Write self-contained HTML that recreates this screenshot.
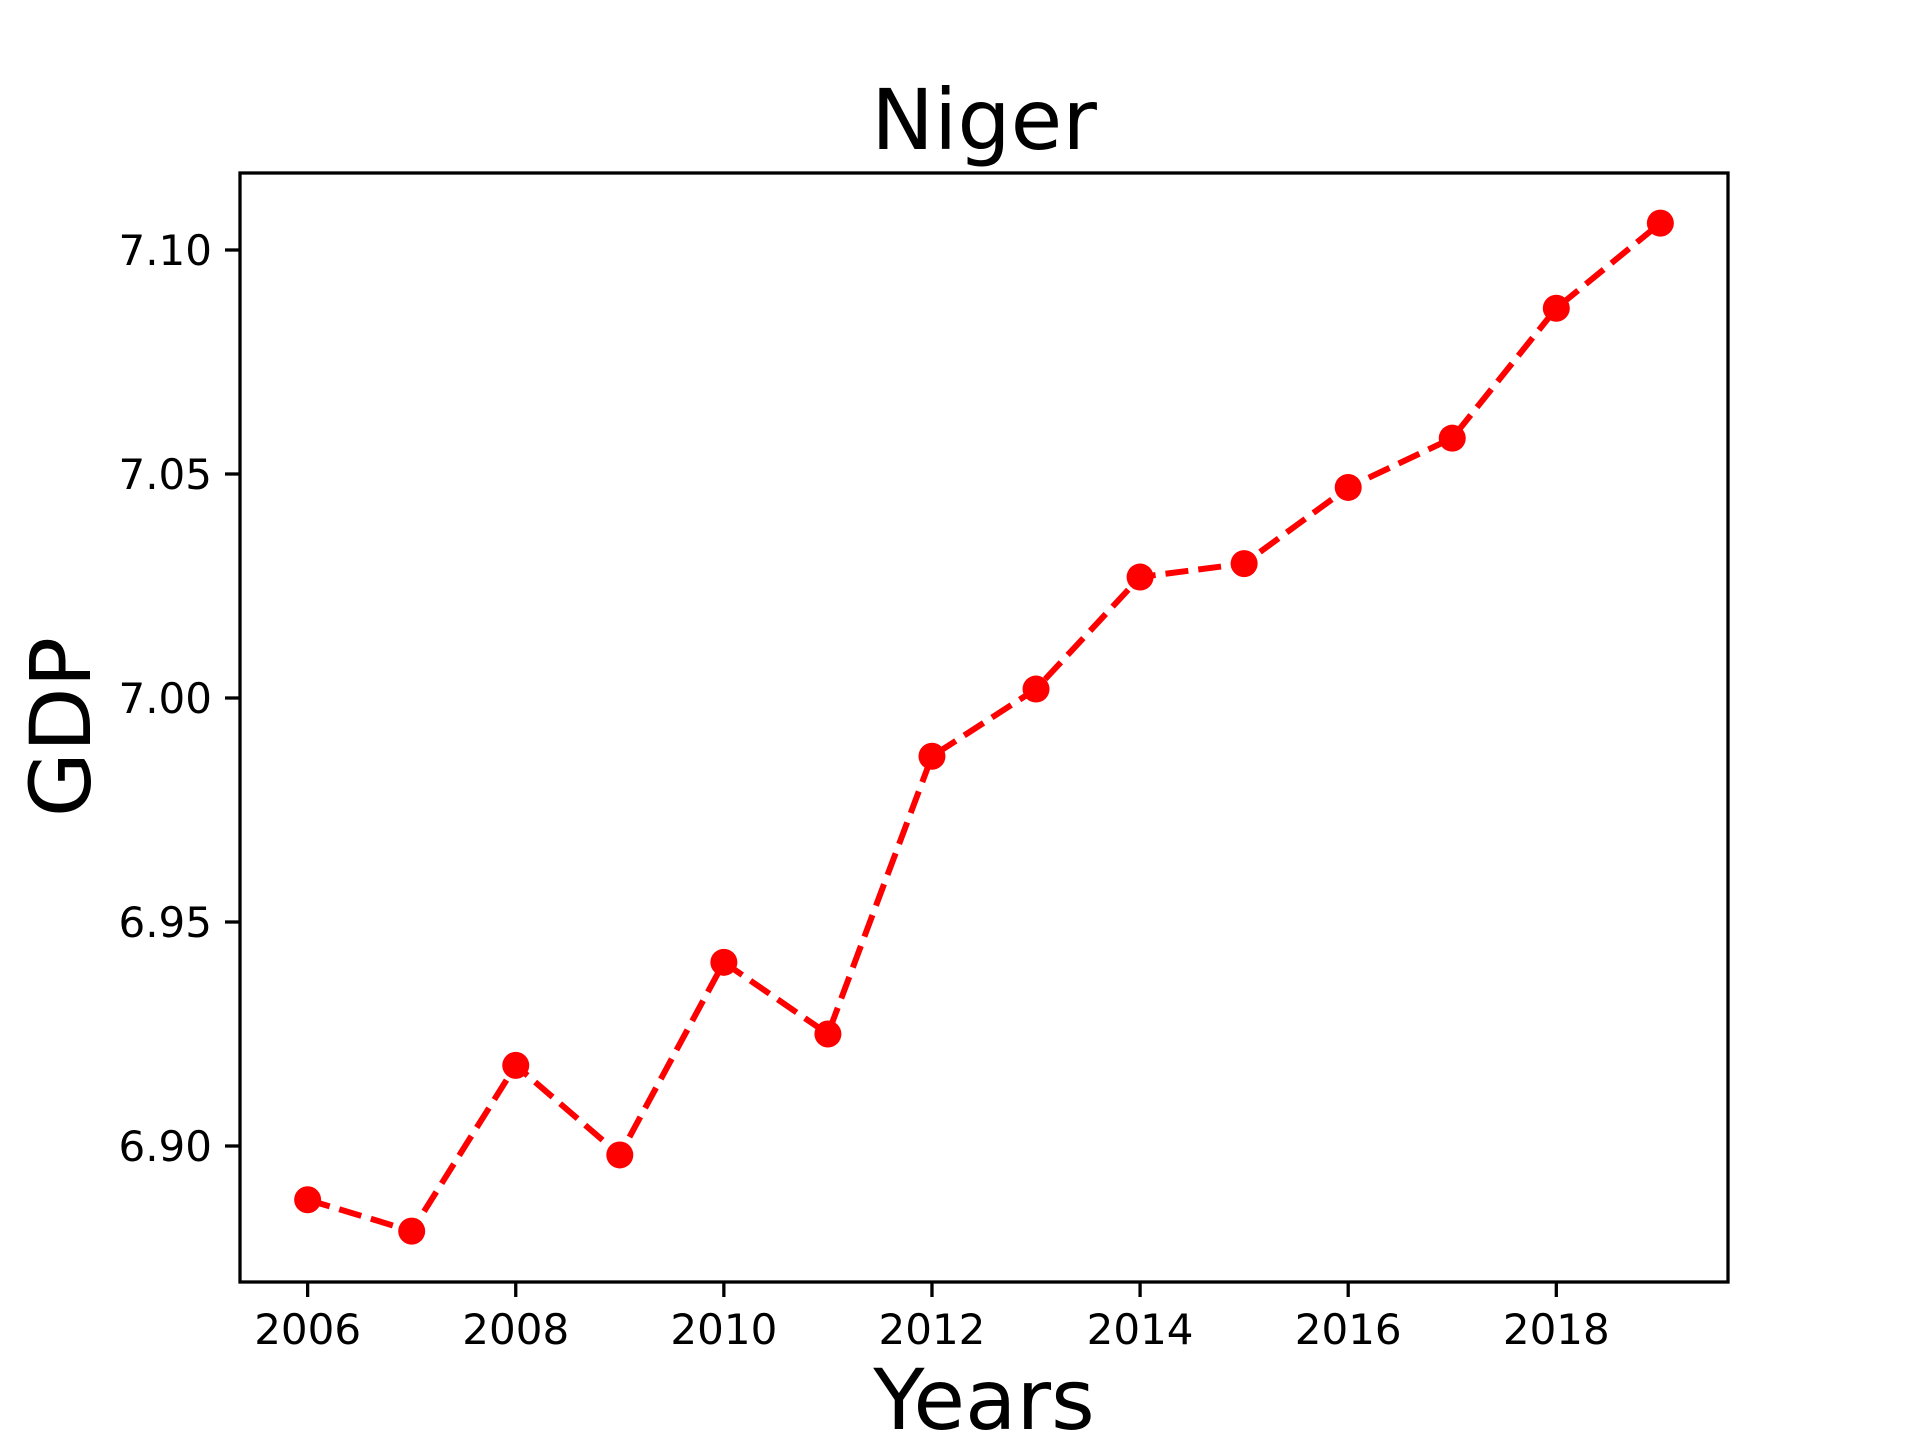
<!DOCTYPE html>
<html><head><meta charset="utf-8"><style>
body{margin:0;background:#fff}
svg{display:block}
text{font-family:"DejaVu Sans","Liberation Sans",sans-serif;fill:#000}
</style></head><body>
<svg id="chart" width="1920" height="1440" xmlns="http://www.w3.org/2000/svg">
<rect width="1920" height="1440" fill="#fff"/>
<text x="984" y="149" font-size="84" text-anchor="middle">Niger</text>
<text x="984" y="1429" font-size="84" text-anchor="middle">Years</text>
<text transform="translate(90,727) rotate(-90)" font-size="84" text-anchor="middle">GDP</text>
<g id="ticks"></g>
<g id="series"></g>
<rect x="240" y="173" width="1488" height="1109" fill="none" stroke="#000" stroke-width="3.3"/>
</svg>
<script>
const years = [2006,2007,2008,2009,2010,2011,2012,2013,2014,2015,2016,2017,2018,2019];
const gdp = [6.888,6.881,6.918,6.898,6.941,6.925,6.987,7.002,7.027,7.030,7.047,7.058,7.087,7.106];
const xTicks = [2006,2008,2010,2012,2014,2016,2018];
const yTicks = [6.90,6.95,7.00,7.05,7.10];
const yTickLabels = ["6.90","6.95","7.00","7.05","7.10"];

const NS="http://www.w3.org/2000/svg";
function xs(v){return 240+(v-2005.35)*1488/14.3;}
function ys(v){return 250+(7.10-v)*4480;}
function mk(tag,attrs,parent){const e=document.createElementNS(NS,tag);for(const k in attrs)e.setAttribute(k,attrs[k]);parent.appendChild(e);return e;}
const tg=document.getElementById('ticks');
xTicks.forEach(t=>{
  const l=mk('line',{x1:xs(t),x2:xs(t),y1:1282,y2:1297,stroke:'#000','stroke-width':3.3},tg);
  
  
  const tx=mk('text',{x:xs(t),y:1344,'font-size':42,'text-anchor':'middle'},tg);
  tx.textContent=t;
  
  
});
yTicks.forEach((t,i)=>{
  const l=mk('line',{x1:225,x2:240,y1:ys(t),y2:ys(t),stroke:'#000','stroke-width':3.3},tg);
  
  
  const tx=mk('text',{x:212,y:ys(t)+15,'font-size':42,'text-anchor':'end'},tg);
  tx.textContent=yTickLabels[i];
  
  
});
const sg=document.getElementById('series');
const pts=years.map((y,i)=>xs(y)+','+ys(gdp[i])).join(' ');
const pl=mk('polyline',{points:pts,fill:'none',stroke:'#ff0000','stroke-width':6,'stroke-dasharray':'23 10'},sg);


years.forEach((y,i)=>{
  const c=mk('circle',{cx:xs(y),cy:ys(gdp[i]),r:13.5,fill:'#ff0000'},sg);
  
  
});
</script>
</body></html>
